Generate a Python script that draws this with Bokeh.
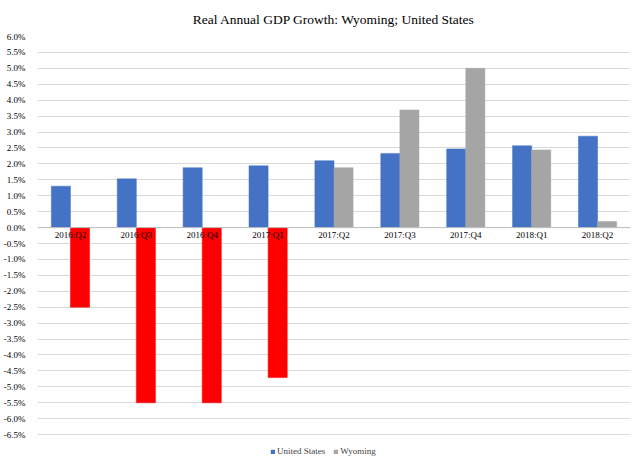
import numpy as np
from bokeh.plotting import figure
from bokeh.models import (FactorRange, ColumnDataSource, Legend, LegendItem,
                          FixedTicker, CustomJSTickFormatter, Span)
from bokeh.transform import dodge
from bokeh.core.properties import value
from bokeh.embed import file_html
from bokeh.resources import INLINE

quarters = ["2016:Q2", "2016:Q3", "2016:Q4", "2017:Q1", "2017:Q2",
            "2017:Q3", "2017:Q4", "2018:Q1", "2018:Q2"]
united_states = [1.30, 1.53, 1.88, 1.94, 2.10, 2.33, 2.47, 2.57, 2.87]
wyoming = [-2.50, -5.50, -5.50, -4.71, 1.88, 3.69, 5.00, 2.44, 0.19]
y_ticks = [round(t, 1) for t in np.arange(-6.5, 6.01, 0.5)]

FONT = "Liberation Serif"
BLUE = "#4472C4"
GRAY = "#A5A5A5"
RED = "#FF0000"

wy_colors = [RED if v < 0 else GRAY for v in wyoming]
src = ColumnDataSource(dict(q=quarters, us=united_states, wy=wyoming,
                            wyc=wy_colors, zero=[0.0] * len(quarters)))

# lower end extended so the legend row sits inside the plotting frame
p = figure(x_range=FactorRange(*quarters, range_padding=0.0), y_range=(-7.1875, 6.0),
           width=632, height=456, output_backend="svg", toolbar_location=None,
           min_border_left=34, min_border_right=2, min_border_top=34,
           min_border_bottom=0)
p.outline_line_color = None
p.border_fill_color = "white"

p.title.text = "Real Annual GDP Growth: Wyoming; United States"
p.title.align = "center"
p.title.text_font = FONT
p.title.text_font_size = "13.5px"
p.title.text_font_style = "normal"
p.title.text_color = "#000000"
p.title.standoff = 19

bw = 0.29
r_us = p.vbar(x=dodge("q", -bw / 2, range=p.x_range), top="us", bottom=0, width=bw,
              source=src, fill_color=BLUE, line_color=BLUE, line_width=0.5)
r_wy = p.vbar(x=dodge("q", bw / 2, range=p.x_range), top="wy", bottom=0, width=bw,
              source=src, fill_color="wyc", line_color="wyc", line_width=0.5)

p.add_layout(Span(location=0, dimension="width", line_color="#BFBFBF", line_width=1))

# category labels next to the zero line
p.text(x="q", y="zero", text="q", source=src, text_align="center",
       text_baseline="top", y_offset=2, text_font=value(FONT),
       text_font_size="9px", text_color="#000000")

p.xaxis.visible = False
p.xgrid.visible = False
p.yaxis.ticker = FixedTicker(ticks=y_ticks)
p.yaxis.formatter = CustomJSTickFormatter(code="return tick.toFixed(1) + '%';")
p.yaxis.axis_line_color = None
p.yaxis.major_tick_line_color = None
p.yaxis.minor_tick_line_color = None
p.yaxis.major_label_text_font = FONT
p.yaxis.major_label_text_font_size = "9px"
p.yaxis.major_label_text_color = "#000000"
p.yaxis.major_label_standoff = 6
p.ygrid.ticker = FixedTicker(ticks=y_ticks)
p.ygrid.grid_line_color = "#D9D9D9"

legend = Legend(items=[LegendItem(label="United States", renderers=[r_us]),
                       LegendItem(label="Wyoming", renderers=[r_wy], index=4)],
                orientation="horizontal", location=(233, 0),
                label_text_font=FONT, label_text_font_size="9px",
                glyph_width=5, glyph_height=5, label_standoff=2, spacing=8,
                padding=0, margin=0, border_line_color=None,
                background_fill_alpha=0, label_height=9)
p.add_layout(legend)

open("out.html", "w").write(file_html(p, INLINE))
